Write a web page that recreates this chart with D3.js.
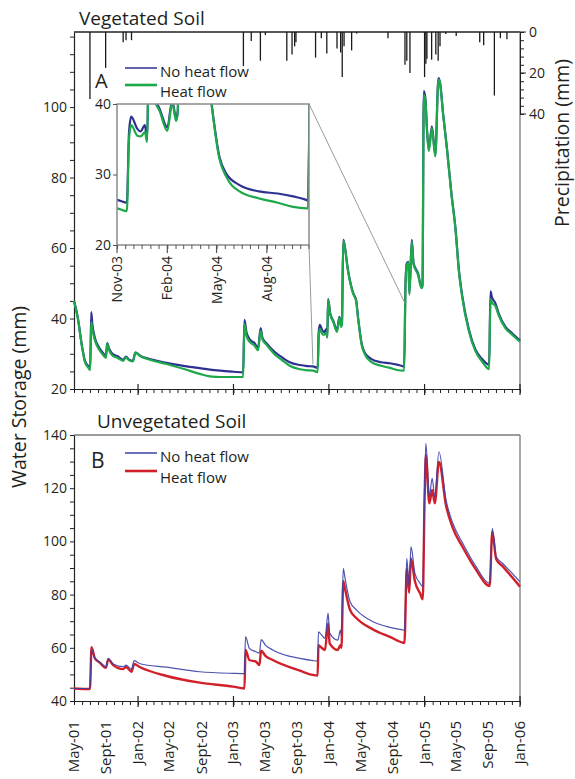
<!DOCTYPE html>
<html><head><meta charset="utf-8">
<script src="https://cdn.jsdelivr.net/npm/d3@7/dist/d3.min.js"></script>
<style>
html,body{margin:0;padding:0;background:#fff;}
svg{display:block;font-family:"Open Sans",sans-serif;}
</style></head><body>
<svg id="c" width="575" height="779"></svg>
<script>
// ---------------- DATA ----------------
// Panel A: Vegetated soil water storage (mm)
const vegDates = ["2001-05-01","2001-05-15","2001-06-01","2001-06-12","2001-06-25","2001-07-02","2001-07-06","2001-07-10","2001-07-20","2001-08-05","2001-08-20","2001-08-31","2001-09-05","2001-09-12","2001-09-25","2001-10-15","2001-11-05","2001-11-16","2001-11-25","2001-12-12","2001-12-22","2002-01-10","2002-02-15","2002-04-20","2002-06-29","2002-08-25","2002-10-03","2002-11-12","2003-01-01","2003-02-07","2003-02-12","2003-02-20","2003-03-05","2003-03-23","2003-04-05","2003-04-15","2003-04-22","2003-05-07","2003-06-08","2003-07-09","2003-08-04","2003-09-12","2003-10-10","2003-11-01","2003-11-19","2003-11-23","2003-11-27","2003-12-08","2003-12-14","2003-12-22","2003-12-26","2003-12-29","2004-01-06","2004-01-18","2004-02-01","2004-02-10","2004-02-17","2004-02-20","2004-02-25","2004-02-29","2004-03-14","2004-04-03","2004-04-14","2004-04-22","2004-05-06","2004-05-18","2004-06-12","2004-07-18","2004-08-21","2004-09-18","2004-10-12","2004-10-15","2004-10-20","2004-10-25","2004-10-31","2004-11-04","2004-11-13","2004-11-20","2004-12-07","2004-12-20","2004-12-24","2004-12-29","2005-01-04","2005-01-10","2005-01-17","2005-01-29","2005-02-11","2005-02-23","2005-03-01","2005-03-13","2005-03-28","2005-04-13","2005-04-30","2005-05-12","2005-05-25","2005-06-19","2005-07-14","2005-08-09","2005-09-05","2005-09-10","2005-09-16","2005-09-29","2005-10-11","2005-11-06","2005-12-02","2006-01-01"];
const vegNoHeat = [45.0,40.5,32.0,28.0,26.5,26.0,41.8,38.5,34.5,31.8,30.2,29.3,33.0,31.5,30.0,29.3,28.3,29.2,28.5,28.0,30.3,29.4,28.5,27.4,26.5,25.9,25.5,25.2,24.9,24.7,39.6,36.0,34.0,33.0,31.6,37.3,34.5,33.0,30.5,28.8,27.6,26.8,26.5,26.4,26.0,36.0,38.2,36.5,36.1,37.0,34.9,45.5,41.5,39.3,36.7,40.5,38.0,39.0,62.3,61.3,53.8,47.2,45.3,40.0,32.6,30.2,28.5,27.6,27.3,26.9,26.4,26.3,50.0,55.7,56.1,47.2,62.3,55.7,52.8,49.0,49.5,104.5,102.5,94.0,88.0,94.5,86.5,108.2,107.0,98.0,88.0,76.0,65.0,54.0,46.5,37.0,31.3,28.5,26.9,47.7,46.0,44.3,41.5,37.7,35.8,33.7];
const vegHeat   = [45.0,40.3,31.8,27.6,26.0,25.4,39.0,37.0,33.8,31.2,29.7,28.8,32.8,31.0,29.5,28.8,28.0,29.0,28.3,27.8,30.3,29.3,28.3,27.1,25.6,24.3,23.6,23.4,23.4,23.4,38.5,35.0,33.3,32.3,31.0,36.5,34.0,32.6,29.8,28.0,26.6,25.6,25.3,25.2,24.8,35.0,37.0,35.5,35.4,36.0,34.6,45.2,41.2,39.0,36.2,40.2,37.6,38.6,62.0,61.0,53.5,47.0,45.0,39.8,32.3,29.8,27.6,26.6,26.0,25.4,25.2,25.2,49.5,55.3,55.8,46.8,61.8,55.3,52.4,48.6,49.0,103.5,102.0,93.5,87.5,94.0,86.0,107.8,106.8,97.9,87.8,75.7,64.6,53.6,46.0,36.5,30.8,27.8,25.6,45.5,44.5,43.5,41.0,37.3,35.4,33.4];

// Panel B: Unvegetated soil water storage (mm)
const unvegDates = ["2001-05-01","2001-07-01","2001-07-07","2001-07-20","2001-08-09","2001-08-31","2001-09-09","2001-09-28","2001-11-05","2001-11-16","2001-12-07","2001-12-17","2002-01-09","2002-04-20","2002-08-25","2002-12-31","2003-02-12","2003-02-16","2003-03-03","2003-03-28","2003-04-10","2003-04-17","2003-05-03","2003-05-31","2003-09-12","2003-11-01","2003-11-19","2003-11-22","2003-12-04","2003-12-17","2003-12-29","2004-01-04","2004-02-04","2004-02-14","2004-02-18","2004-02-25","2004-03-03","2004-03-22","2004-04-16","2004-06-18","2004-08-21","2004-10-11","2004-10-16","2004-10-25","2004-11-03","2004-11-10","2004-11-25","2004-12-15","2004-12-25","2005-01-01","2005-01-06","2005-01-19","2005-01-30","2005-02-09","2005-02-25","2005-03-24","2005-04-19","2005-05-27","2005-07-17","2005-09-07","2005-09-17","2005-10-02","2005-10-27","2006-01-01"];
const unvegNoHeat = [44.7,44.7,59.4,56.0,54.5,52.8,56.0,53.9,52.9,53.5,51.9,55.2,54.0,52.7,51.0,50.4,50.3,64.2,59.8,58.5,58.0,63.1,61.0,59.2,56.0,55.2,55.0,66.0,64.8,63.5,73.0,65.5,62.9,66.7,64.5,89.9,86.0,77.3,74.2,69.8,67.7,66.7,66.6,93.6,83.1,98.0,88.0,84.2,83.0,120.0,136.9,116.8,123.7,116.8,133.7,115.6,106.8,99.3,90.5,84.2,104.9,94.2,91.7,84.8];
const unvegHeat   = [44.7,44.5,60.2,56.0,54.3,52.5,55.6,53.5,52.0,52.8,51.0,53.9,52.7,49.4,46.9,45.4,44.7,59.2,55.4,54.8,53.5,58.9,57.0,55.4,51.4,49.8,49.6,61.0,60.0,59.2,69.2,61.7,59.2,61.0,60.0,85.0,82.0,74.2,71.1,66.9,64.1,61.9,61.8,89.9,80.7,93.6,85.0,80.4,78.2,116.0,132.5,114.3,119.3,114.3,129.9,113.5,105.0,97.8,89.3,83.3,103.6,93.3,90.6,83.0];

// Precipitation (mm)
const precipDates = ["2001-07-01","2001-08-30","2001-11-05","2001-11-16","2001-12-07","2003-02-08","2003-03-10","2003-04-14","2003-05-03","2003-07-24","2003-08-13","2003-08-23","2003-08-28","2003-11-11","2003-12-03","2003-12-24","2004-02-01","2004-02-15","2004-02-21","2004-02-28","2004-03-28","2004-04-16","2004-08-14","2004-10-18","2004-10-25","2004-11-06","2005-01-01","2005-01-06","2005-01-10","2005-01-28","2005-02-13","2005-02-22","2005-03-01","2005-03-23","2005-05-02","2005-07-31","2005-08-15","2005-09-25","2005-10-18","2005-11-12"];
const precipMM = [32.7,17.5,5,4,4,16.6,4.4,14,1.5,14,11,7,5,12.5,3,10.5,8,10,22,7,9,0.8,3,16,14,20,22,15.5,13,13.5,11,14,7,1,2,5,6.5,31,3,3.5];

// Tick labels
const dateTickLabels = ["May-01","Sept-01","Jan-02","May-02","Sept-02","Jan-03","May-03","Sept-03","Jan-04","May-04","Sept-04","Jan-05","May-05","Sep-05","Jan-06"];
const insetTickLabels = ["Nov-03","Feb-04","May-04","Aug-04"];
const seriesNames = ["No heat flow","Heat flow"];

// ---------------- CHART ----------------
const P = d3.timeParse("%Y-%m-%d");
const svg = d3.select("#c");
const TXT = "#231f20";
const cBlue = "#2e3192", cGreen = "#1da84a", cRed = "#d2202a", cBlueB = "#3b41a6";

const x = d3.scaleTime().domain([P("2001-05-01"), P("2006-01-01")]).range([74, 520]);
const yA = d3.scaleLinear().domain([20, 121.3]).range([389, 32]);
const yP = d3.scaleLinear().domain([0, 40]).range([32, 114]);
const yB = d3.scaleLinear().domain([40, 140]).range([701, 435]);

const veg = vegDates.map((d,i)=>({d:P(d), a:vegNoHeat[i], b:vegHeat[i]}));
const unveg = unvegDates.map((d,i)=>({d:P(d), a:unvegNoHeat[i], b:unvegHeat[i]}));
const precip = precipDates.map((d,i)=>({d:P(d), v:precipMM[i]}));

// frames
function frame(y0, y1, topColor){
  svg.append("line").attr("x1",74).attr("x2",520).attr("y1",y0).attr("y2",y0).attr("stroke",topColor).attr("stroke-width",1.3);
  svg.append("line").attr("x1",520).attr("x2",520).attr("y1",y0).attr("y2",y1).attr("stroke","#7a7a7a").attr("stroke-width",1.3);
}
frame(32, 389, "#222");
frame(435, 701, "#7a7a7a");

// precipitation bars
svg.append("g").selectAll("line").data(precip).join("line")
  .attr("x1",d=>x(d.d)).attr("x2",d=>x(d.d))
  .attr("y1",yP(0)).attr("y2",d=>yP(d.v))
  .attr("stroke","#1a1a1a").attr("stroke-width",1.3);

// precip axis (right)
const gP = svg.append("g").attr("transform","translate(520,0)")
  .call(d3.axisRight(yP).tickValues(d3.range(0,41,4)).tickSize(4).tickSizeOuter(0)
  .tickFormat(d=> (d%20===0)? d : ""));
gP.select(".domain").attr("stroke","#222");
gP.selectAll("text").attr("font-size",14).attr("fill",TXT).attr("x",9).attr("font-family","Open Sans");
gP.selectAll("line").attr("stroke","#222");
[0,20,40].forEach(v=>gP.append("line").attr("x1",0).attr("x2",6).attr("y1",yP(v)).attr("y2",yP(v)).attr("stroke","#222"));

// left axes
function leftAxis(y, vals, labelFn){
  const g = svg.append("g").attr("transform","translate(74,0)")
    .call(d3.axisLeft(y).tickValues(vals).tickSize(4).tickSizeOuter(0).tickFormat(labelFn));
  g.select(".domain").attr("stroke","#222").attr("stroke-width",1.2);
  g.selectAll("line").attr("stroke","#222");
  g.selectAll("text").attr("font-size",14).attr("fill",TXT).attr("x",-7).attr("font-family","Open Sans");
  return g;
}
leftAxis(yA, d3.range(20,121,5), d=> (d%20===0 && d<=100)? d : "");
leftAxis(yB, d3.range(40,141,5), d=> (d%20===0)? d : "");

// bottom axes
const months = d3.timeMonth.range(P("2001-05-01"), P("2006-01-02"));
const jans = months.filter(d=>d.getMonth()===0);
function bottomAxis(y0){
  const g = svg.append("g").attr("transform",`translate(0,${y0})`)
    .call(d3.axisBottom(x).tickValues(months).tickSize(4).tickSizeOuter(0).tickFormat(""));
  g.select(".domain").attr("stroke","#222").attr("stroke-width",1.2);
  g.selectAll("line").attr("stroke","#222");
  g.selectAll("line.maj").data(jans).join("line").attr("class","maj")
    .attr("x1",d=>x(d)).attr("x2",d=>x(d)).attr("y1",-5).attr("y2",6)
    .attr("stroke","#222").attr("stroke-width",1.2);
}
bottomAxis(389);
bottomAxis(701);

// bottom labels
const labelDates = dateTickLabels.map((l,i)=>d3.timeMonth.offset(P("2001-05-01"), 4*i));
svg.append("g").selectAll("text").data(labelDates).join("text")
  .attr("transform",d=>`translate(${x(d)+5},721) rotate(-90)`)
  .attr("text-anchor","end").attr("font-size",15).attr("fill",TXT)
  .text((d,i)=>dateTickLabels[i]);

// lines
const lineA = k => d3.line().x(d=>x(d.d)).y(d=>yA(d[k])).curve(d3.curveMonotoneX);
const lineB = k => d3.line().x(d=>x(d.d)).y(d=>yB(d[k])).curve(d3.curveMonotoneX);
svg.append("path").datum(veg).attr("d",lineA("a")).attr("fill","none").attr("stroke",cBlue).attr("stroke-width",2.2);
svg.append("path").datum(veg).attr("d",lineA("b")).attr("fill","none").attr("stroke",cGreen).attr("stroke-width",2.2);
svg.append("path").datum(unveg).attr("d",lineB("b")).attr("fill","none").attr("stroke",cRed).attr("stroke-width",2.4);
svg.append("path").datum(unveg).attr("d",lineB("a")).attr("fill","none").attr("stroke",cBlueB).attr("stroke-width",1.2).attr("opacity",0.9);

// ---------------- INSET ----------------
const i0 = P("2003-11-01"), i1 = P("2004-10-17");
const xi = d3.scaleTime().domain([i0, i1]).range([117, 309]);
const yi = d3.scaleLinear().domain([20, 40]).range([245, 104]);
// connectors
svg.append("line").attr("x1",309).attr("y1",104).attr("x2",x(P("2004-10-17"))).attr("y2",yA(44.5)).attr("stroke","#9a9a9a").attr("stroke-width",1);
svg.append("line").attr("x1",309).attr("y1",245).attr("x2",x(i0)).attr("y2",yA(27)).attr("stroke","#9a9a9a").attr("stroke-width",1);
svg.append("rect").attr("x",117).attr("y",104).attr("width",192).attr("height",141).attr("fill","#fff");
svg.append("clipPath").attr("id","ic").append("rect").attr("x",117).attr("y",104).attr("width",192).attr("height",141);
const gi = svg.append("g").attr("clip-path","url(#ic)");
const lineI = k => d3.line().x(d=>xi(d.d)).y(d=>yi(d[k])).curve(d3.curveMonotoneX);
gi.append("path").datum(veg).attr("d",lineI("a")).attr("fill","none").attr("stroke",cBlue).attr("stroke-width",2.2);
gi.append("path").datum(veg).attr("d",lineI("b")).attr("fill","none").attr("stroke",cGreen).attr("stroke-width",2.2);
svg.append("rect").attr("x",117).attr("y",104).attr("width",192).attr("height",141).attr("fill","none").attr("stroke","#8a8a8a").attr("stroke-width",1.5);
// inset axes
const giL = svg.append("g").attr("transform","translate(117,0)")
  .call(d3.axisLeft(yi).tickValues([20,30,40]).tickSize(4).tickSizeOuter(0));
giL.select(".domain").remove();
giL.selectAll("line").attr("stroke","#555");
giL.selectAll("text").attr("font-size",14).attr("fill",TXT).attr("x",-6).attr("font-family","Open Sans");
const iTicks = [];
d3.timeMonth.range(i0, i1).forEach(m=>{ iTicks.push(m); iTicks.push(d3.timeDay.offset(m,15)); });
const giB = svg.append("g").attr("transform","translate(0,245)")
  .call(d3.axisBottom(xi).tickValues(iTicks.filter(d=>d<=i1)).tickSize(4).tickSizeOuter(0).tickFormat(""));
giB.select(".domain").remove();
giB.selectAll("line").attr("stroke","#555");
const iMaj = insetTickLabels.map((l,i)=>d3.timeMonth.offset(i0, 3*i));
giB.selectAll("line.maj").data(iMaj).join("line").attr("class","maj")
  .attr("x1",d=>xi(d)).attr("x2",d=>xi(d)).attr("y1",0).attr("y2",8).attr("stroke","#555").attr("stroke-width",1.2);
svg.append("g").selectAll("text").data(iMaj).join("text")
  .attr("transform",d=>`translate(${xi(d)+5},256) rotate(-90)`)
  .attr("text-anchor","end").attr("font-size",14).attr("fill",TXT)
  .text((d,i)=>insetTickLabels[i]);

// ---------------- TEXT ----------------
svg.append("text").attr("x",79).attr("y",25).attr("font-size",19).attr("fill",TXT).text("Vegetated Soil");
svg.append("text").attr("x",97).attr("y",428).attr("font-size",19).attr("fill",TXT).text("Unvegetated Soil");
svg.append("text").attr("x",95).attr("y",88).attr("font-size",20).attr("fill",TXT).text("A");
svg.append("text").attr("x",91).attr("y",468).attr("font-size",21).attr("fill",TXT).text("B");
svg.append("text").attr("transform","translate(26,397) rotate(-90)").attr("text-anchor","middle").attr("font-size",19.5).attr("fill",TXT).text("Water Storage (mm)");
svg.append("text").attr("transform","translate(569,143) rotate(-90)").attr("text-anchor","middle").attr("font-size",19.5).attr("fill",TXT).text("Precipitation (mm)");

function legend(y1, y2, c1, c2, w1, w2){
  svg.append("line").attr("x1",125).attr("x2",157).attr("y1",y1).attr("y2",y1).attr("stroke",c1).attr("stroke-width",w1);
  svg.append("line").attr("x1",125).attr("x2",157).attr("y1",y2).attr("y2",y2).attr("stroke",c2).attr("stroke-width",w2);
  svg.append("text").attr("x",160).attr("y",y1+9).attr("font-size",15).attr("fill",TXT).text(seriesNames[0]);
  svg.append("text").attr("x",160).attr("y",y2+12).attr("font-size",15).attr("fill",TXT).text(seriesNames[1]);
}
legend(68, 85, cBlue, cGreen, 1.5, 2.6);
legend(453, 471, cBlueB, cRed, 1.5, 2.6);
</script>
</body></html>
